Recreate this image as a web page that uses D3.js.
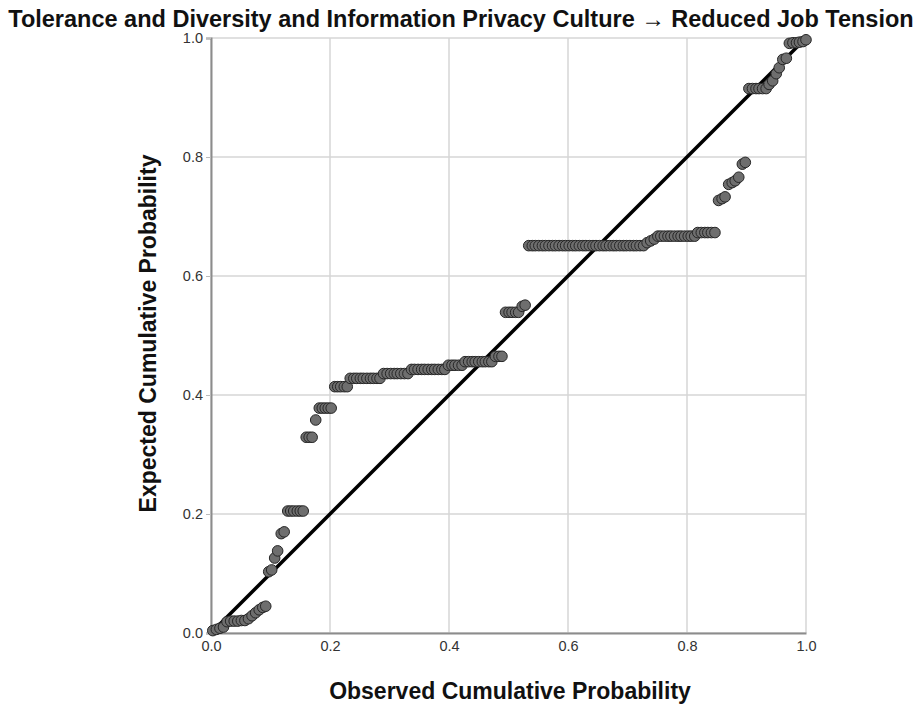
<!DOCTYPE html>
<html>
<head>
<meta charset="utf-8">
<script src="https://cdn.jsdelivr.net/npm/d3@7"></script>
<style>
  html, body { margin: 0; padding: 0; background: #fff; }
  svg { display: block; }
</style>
</head>
<body>
<svg id="chart" width="924" height="706"></svg>
<script>
// Normal P-P plot of regression residuals
const titleText = "Tolerance and Diversity and Information Privacy Culture \u2192 Reduced Job Tension";
const xLabel = "Observed Cumulative Probability";
const yLabel = "Expected Cumulative Probability";
const tickValues = [0, 0.2, 0.4, 0.6, 0.8, 1.0];

// Observed cumulative probability of each case
const observed = [
  0.003, 0.009, 0.015, 0.021,
  0.027, 0.033, 0.039, 0.045, 0.051, 0.057,
  0.063, 0.069, 0.075, 0.081, 0.087, 0.092,
  0.097, 0.102, 0.107, 0.112, 0.118, 0.123,
  0.129, 0.134, 0.139, 0.145, 0.150, 0.155,
  0.160, 0.165, 0.170, 0.176,
  0.182, 0.187, 0.192, 0.197, 0.202,
  0.208, 0.213, 0.218, 0.224, 0.229,
  0.234, 0.240, 0.245, 0.251, 0.256, 0.262, 0.268, 0.273, 0.279, 0.284,
  0.290, 0.296, 0.302, 0.308, 0.313, 0.319, 0.325, 0.331,
  0.337, 0.342, 0.348, 0.354, 0.359, 0.365, 0.371, 0.376, 0.382, 0.388, 0.393,
  0.399, 0.405, 0.410, 0.416, 0.422,
  0.427, 0.433, 0.439, 0.444, 0.450, 0.456, 0.461, 0.467, 0.472,
  0.478, 0.484, 0.489,
  0.495, 0.501, 0.506, 0.512, 0.517, 0.523, 0.528,
  0.534, 0.540, 0.545, 0.551, 0.557, 0.562, 0.568, 0.574, 0.579, 0.585,
  0.591, 0.596, 0.602, 0.608, 0.613, 0.619, 0.625, 0.630, 0.636, 0.642,
  0.647, 0.653, 0.659, 0.664, 0.670, 0.676, 0.681, 0.687, 0.693, 0.698,
  0.704, 0.710, 0.715, 0.721, 0.727,
  0.733, 0.739, 0.745,
  0.751, 0.756, 0.762, 0.768, 0.773, 0.779, 0.785, 0.790, 0.796, 0.802, 0.807, 0.813,
  0.818, 0.824, 0.830, 0.835, 0.841, 0.847,
  0.853, 0.859, 0.864, 0.870, 0.876, 0.881, 0.887, 0.893, 0.898,
  0.904, 0.910, 0.916, 0.921, 0.927, 0.933,
  0.938, 0.944, 0.950, 0.955, 0.961, 0.967,
  0.972, 0.978, 0.984, 0.989, 0.995, 1.000
];

// Expected cumulative probability under the normal distribution
const expected = [
  0.004, 0.006, 0.008, 0.010,
  0.019, 0.020, 0.020, 0.020, 0.021, 0.021,
  0.024, 0.029, 0.034, 0.039, 0.043, 0.045,
  0.103, 0.106, 0.126, 0.138, 0.167, 0.170,
  0.205, 0.205, 0.205, 0.205, 0.205, 0.205,
  0.329, 0.329, 0.329, 0.358,
  0.378, 0.378, 0.378, 0.378, 0.378,
  0.414, 0.414, 0.414, 0.414, 0.414,
  0.428, 0.428, 0.428, 0.428, 0.428, 0.428, 0.428, 0.428, 0.428, 0.428,
  0.436, 0.436, 0.436, 0.436, 0.436, 0.436, 0.436, 0.436,
  0.443, 0.443, 0.443, 0.443, 0.443, 0.443, 0.443, 0.443, 0.443, 0.443, 0.443,
  0.450, 0.450, 0.450, 0.450, 0.450,
  0.456, 0.456, 0.456, 0.456, 0.456, 0.456, 0.456, 0.456, 0.456,
  0.465, 0.465, 0.465,
  0.539, 0.539, 0.539, 0.539, 0.539, 0.549, 0.551,
  0.651, 0.651, 0.651, 0.651, 0.651, 0.651, 0.651, 0.651, 0.651, 0.651,
  0.651, 0.651, 0.651, 0.651, 0.651, 0.651, 0.651, 0.651, 0.651, 0.651,
  0.651, 0.651, 0.651, 0.651, 0.651, 0.651, 0.651, 0.651, 0.651, 0.651,
  0.651, 0.651, 0.651, 0.651, 0.651,
  0.656, 0.659, 0.662,
  0.667, 0.667, 0.667, 0.667, 0.667, 0.667, 0.667, 0.667, 0.667, 0.667, 0.667, 0.667,
  0.673, 0.673, 0.673, 0.673, 0.673, 0.673,
  0.727, 0.730, 0.733, 0.754, 0.757, 0.760, 0.766, 0.788, 0.791,
  0.915, 0.915, 0.915, 0.915, 0.915, 0.915,
  0.922, 0.928, 0.940, 0.950, 0.964, 0.966,
  0.991, 0.992, 0.992, 0.993, 0.994, 0.997
];

const points = observed.map((o, i) => ({ o, e: expected[i] }));

const svg = d3.select("#chart");
const margin = { left: 211, right: 118, top: 38, bottom: 73 };
const width = 924, height = 706;

const x = d3.scaleLinear().domain([0, 1]).range([margin.left, width - margin.right]);
const y = d3.scaleLinear().domain([0, 1]).range([height - margin.bottom, margin.top]);

const fmt = d3.format(".1f");
const labelFont = "'Liberation Sans', Arial, sans-serif";

// grid lines
const grid = svg.append("g").attr("class", "grid");
grid.selectAll("line.v").data(tickValues).join("line")
  .attr("class", "v")
  .attr("x1", d => x(d)).attr("x2", d => x(d))
  .attr("y1", y(0)).attr("y2", y(1))
  .attr("stroke", "#d6d6d6").attr("stroke-width", 1.5);
grid.selectAll("line.h").data(tickValues).join("line")
  .attr("class", "h")
  .attr("y1", d => y(d)).attr("y2", d => y(d))
  .attr("x1", x(0)).attr("x2", x(1))
  .attr("stroke", "#d6d6d6").attr("stroke-width", 1.5);

// axes
const xAxis = svg.append("g")
  .attr("transform", `translate(0,${y(0)})`)
  .call(d3.axisBottom(x).tickValues(tickValues).tickFormat(fmt).tickSize(0).tickPadding(8));
const yAxis = svg.append("g")
  .attr("transform", `translate(${x(0)},0)`)
  .call(d3.axisLeft(y).tickValues(tickValues).tickFormat(fmt).tickSize(5).tickPadding(3));

[xAxis, yAxis].forEach(g => {
  g.select(".domain").attr("stroke", "#8c8c8c").attr("stroke-width", 2);
  g.selectAll(".tick line").attr("stroke", "#bbbbbb");
  g.selectAll(".tick text")
    .attr("fill", "#333")
    .style("font-family", labelFont)
    .style("font-size", "14.5px");
});

// reference line y = x
svg.append("line")
  .attr("x1", x(0)).attr("y1", y(0))
  .attr("x2", x(1)).attr("y2", y(1))
  .attr("stroke", "#000").attr("stroke-width", 3.5);

// residual points
svg.append("g").selectAll("circle").data(points).join("circle")
  .attr("cx", d => x(d.o))
  .attr("cy", d => y(d.e))
  .attr("r", 5.3)
  .attr("fill", "#6e6e6e")
  .attr("stroke", "#262626")
  .attr("stroke-width", 1);

// title and axis labels
svg.append("text")
  .attr("x", 461).attr("y", 27)
  .attr("text-anchor", "middle")
  .style("font-family", labelFont)
  .style("font-weight", "bold")
  .style("font-size", "23.5px")
  .attr("fill", "#111")
  .text(titleText);

svg.append("text")
  .attr("x", 510).attr("y", 699)
  .attr("text-anchor", "middle")
  .style("font-family", labelFont)
  .style("font-weight", "bold")
  .style("font-size", "23px")
  .attr("fill", "#111")
  .text(xLabel);

svg.append("text")
  .attr("transform", `translate(156,${(y(0) + y(1)) / 2 - 2}) rotate(-90)`)
  .attr("text-anchor", "middle")
  .style("font-family", labelFont)
  .style("font-weight", "bold")
  .style("font-size", "23px")
  .attr("fill", "#111")
  .text(yLabel);
</script>
</body>
</html>
